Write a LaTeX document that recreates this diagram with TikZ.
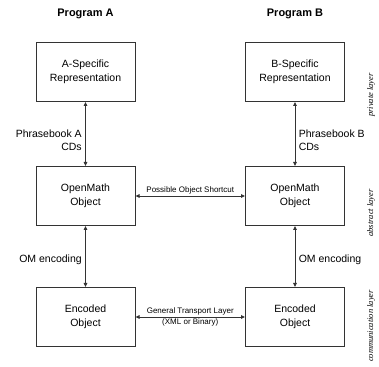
\documentclass[tikz,border=0pt]{standalone}
\usepackage{fontspec}
\setmainfont{Liberation Sans}
\newfontfamily\layerfont{Liberation Serif}
\usetikzlibrary{arrows.meta}

\begin{document}
\begin{tikzpicture}[x=1pt, y=1pt,
    box/.style={draw=black!80, line width=1pt, minimum width=99pt, minimum height=59pt,
        align=center, font=\fontsize{10.5}{14}\selectfont},
    link/.style={{Triangle[length=4pt,width=3.5pt]}-{Triangle[length=4pt,width=3.5pt]},
        line width=0.9pt, draw=black!80},
    lbl/.style={align=center, font=\fontsize{10.5}{13}\selectfont},
    small/.style={inner sep=1pt, font=\fontsize{8}{9.5}\selectfont},
    layer/.style={rotate=90, font=\layerfont\itshape\fontsize{8.5}{9}\selectfont}]
    \useasboundingbox (0,0) rectangle (379,366);
    % programs
    \node[font=\bfseries\fontsize{11}{13}\selectfont] (progA) at (85.5,352) {Program A};
    \node[font=\bfseries\fontsize{11}{13}\selectfont] (progB) at (295,352) {Program B};
    % boxes
    \node[box] (specA) at (85.5,294) {A-Specific\\Representation};
    \node[box] (specB) at (295,294) {B-Specific\\Representation};
    \node[box] (omA) at (85.5,170) {OpenMath\\Object};
    \node[box] (omB) at (295,170) {OpenMath\\Object};
    \node[box] (encA) at (85.5,49) {Encoded\\Object};
    \node[box] (encB) at (295,49) {Encoded\\Object};
    % vertical links
    \draw[link] (specA) -- node[pos=0.6, left, lbl, align=right] (pbA) {Phrasebook A\\CDs} (omA);
    \draw[link] (specB) -- node[pos=0.6, right, lbl, align=left] (pbB) {Phrasebook B\\CDs} (omB);
    \draw[link] (omA) -- node[pos=0.55, left, lbl] (encLabA) {OM encoding} (encA);
    \draw[link] (omB) -- node[pos=0.55, right, lbl] (encLabB) {OM encoding} (encB);
    % horizontal links
    \draw[link] (omA) -- node[above, small] (shortcut) {Possible Object Shortcut} (omB);
    \draw[link] (encA) -- node[above, small] (transport) {General Transport Layer}
        node[below, small] (format) {(XML or Binary)} (encB);
    % layers
    \node[layer] (privL) at (371,271) {private layer};
    \node[layer] (absL) at (371,153) {abstract layer};
    \node[layer] (comL) at (371,40) {communication layer};
\end{tikzpicture}
\end{document}
